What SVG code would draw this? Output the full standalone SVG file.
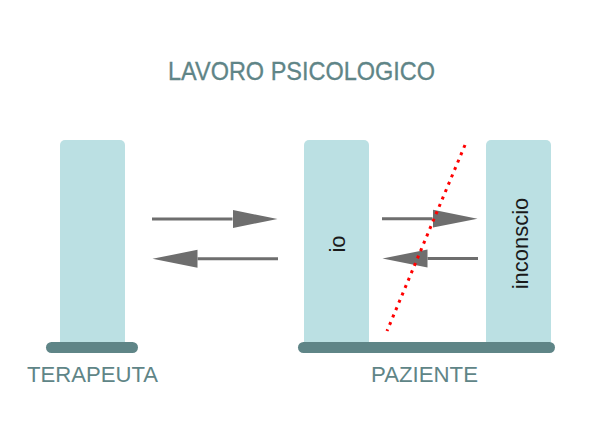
<svg xmlns="http://www.w3.org/2000/svg" width="600" height="440" viewBox="0 0 600 440">
  <style>
    .pillar { fill: #bbe0e3; }
    .base { fill: #5f8587; }
    .label { font-family: "Liberation Sans", Arial, sans-serif; fill: #5f8587; }
    .vtext { font-family: "Liberation Sans", Arial, sans-serif; font-size: 22px; fill: #1a1a1a; text-anchor: middle; }
    .arrow { stroke: #6e6e6e; stroke-width: 3; fill: none; marker-end: url(#head); }
    .cut { stroke: #ff0000; stroke-width: 3; stroke-dasharray: 3 5; fill: none; }
  </style>
  <defs>
    <marker id="head" markerUnits="userSpaceOnUse" markerWidth="46" markerHeight="20" viewBox="0 -10 46 20" refX="0" refY="0" orient="auto">
      <polygon points="0,-9 45,0 0,9" fill="#6e6e6e"/>
    </marker>
  </defs>
  <rect width="600" height="440" fill="#ffffff"/>
  <text class="label" x="168" y="80" font-size="25" textLength="267" lengthAdjust="spacingAndGlyphs" stroke="#5f8587" stroke-width="0.3">LAVORO PSICOLOGICO</text>

  <g id="terapeuta">
    <rect class="pillar" x="60" y="140" width="65" height="208" rx="5"/>
    <rect class="base" x="46" y="342" width="92" height="11" rx="5.5"/>
    <text class="label" x="27" y="381.5" font-size="22" textLength="131" lengthAdjust="spacingAndGlyphs">TERAPEUTA</text>
  </g>

  <g id="paziente">
    <g id="io">
      <rect class="pillar" x="304" y="140" width="65" height="208" rx="5"/>
      <text class="vtext" transform="translate(345 244) rotate(-90)">io</text>
    </g>
    <g id="inconscio">
      <rect class="pillar" x="486" y="140" width="65" height="208" rx="5"/>
      <text class="vtext" transform="translate(528 243.5) rotate(-90)">inconscio</text>
    </g>
    <rect class="base" x="298" y="342" width="257" height="11" rx="5.5"/>
    <text class="label" x="371" y="381.5" font-size="22" textLength="107" lengthAdjust="spacingAndGlyphs">PAZIENTE</text>
  </g>

  <g id="connectors">
    <path class="arrow" d="M152 219 H232.5"/>
    <path class="arrow" d="M278 258.8 H197.5"/>
    <path class="arrow" d="M382 218.7 H432.5"/>
    <path class="arrow" d="M478 258.5 H427.5"/>
    <path class="cut" d="M465 145 L387 331"/>
  </g>
</svg>
